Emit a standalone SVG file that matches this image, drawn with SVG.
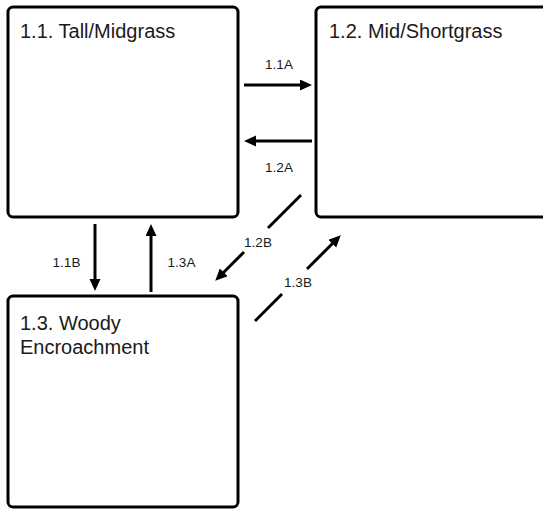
<svg xmlns="http://www.w3.org/2000/svg" width="543" height="509" viewBox="0 0 543 509">
<style>
.box{fill:#fff;stroke:#000;stroke-width:3}
.title{font-family:"Liberation Sans",Arial,sans-serif;font-size:20px;fill:#1a1a1a}
.lbl{font-family:"Liberation Sans",Arial,sans-serif;font-size:13.5px;fill:#1a1a1a;text-anchor:middle}
.conn line{stroke:#000;stroke-width:3}
</style>
<defs>
<marker id="ah" markerUnits="userSpaceOnUse" markerWidth="14" markerHeight="12" refX="1" refY="5.5" orient="auto">
<path d="M0,0 L12,5.5 L0,11 z" fill="#000"/>
</marker>
</defs>
<rect width="543" height="509" fill="#fff"/>
<g id="node-1-1">
<rect class="box" x="8" y="7" width="230" height="210" rx="5"/>
<text class="title" x="20" y="38">1.1. Tall/Midgrass</text>
</g>
<g id="node-1-2">
<rect class="box" x="316" y="7" width="235" height="210" rx="5"/>
<text class="title" x="329" y="38">1.2. Mid/Shortgrass</text>
</g>
<g id="node-1-3">
<rect class="box" x="8" y="296" width="230" height="211" rx="5"/>
<text class="title" x="20" y="330">1.3. Woody</text>
<text class="title" x="20" y="354">Encroachment</text>
</g>
<g id="connectors" class="conn">
<line x1="244" y1="85" x2="301" y2="85" marker-end="url(#ah)"/>
<line x1="312" y1="141" x2="255" y2="141" marker-end="url(#ah)"/>
<line x1="95" y1="224" x2="95" y2="280" marker-end="url(#ah)"/>
<line x1="151" y1="292" x2="151" y2="235" marker-end="url(#ah)"/>
<line x1="301" y1="195" x2="268" y2="228"/>
<line x1="244" y1="252" x2="223" y2="273" marker-end="url(#ah)"/>
<line x1="255" y1="321" x2="282" y2="294"/>
<line x1="307" y1="269" x2="333" y2="243" marker-end="url(#ah)"/>
</g>
<g id="labels">
<text class="lbl" x="279" y="69">1.1A</text>
<text class="lbl" x="279" y="172">1.2A</text>
<text class="lbl" x="66.5" y="267">1.1B</text>
<text class="lbl" x="181.5" y="267">1.3A</text>
<text class="lbl" x="258" y="247">1.2B</text>
<text class="lbl" x="298" y="287">1.3B</text>
</g>
</svg>
